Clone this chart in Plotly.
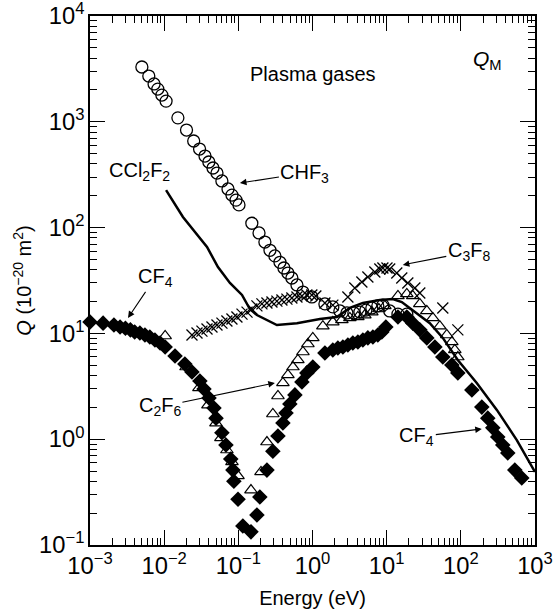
import math
import plotly.graph_objects as go

# CHF3 (open circles)
chf3_e = [0.005, 0.0062, 0.0073, 0.0082, 0.0093, 0.0106, 0.0153, 0.020, 0.025, 0.030, 0.0355,
          0.040, 0.0455, 0.0515, 0.060, 0.0725, 0.082, 0.093, 0.102, 0.152, 0.19, 0.228, 0.267,
          0.311, 0.364, 0.412, 0.466, 0.527, 0.617, 0.743, 0.98, 1.47, 1.88, 2.34, 2.91, 3.61,
          4.35, 5.25, 6.31, 7.6, 8.9, 11.0, 14.2, 18.7]
chf3_q = [3300, 2710, 2280, 2040, 1790, 1570, 1090, 836, 659, 553, 475, 417, 366, 328, 276, 232,
          203, 182, 164, 110, 89, 73, 61, 54, 47, 41.5, 37.2, 33.4, 28.7, 24.6, 22.1, 19.0, 17.8,
          16.3, 15.6, 15.6, 15.9, 16.6, 17.4, 18.2, 18.5, 16.3, 15.2, 15.2]

# CF4 (filled diamonds)
cf4_e = [0.001, 0.0015, 0.0021, 0.00254, 0.003, 0.0035, 0.004, 0.0047, 0.0055, 0.0064, 0.0075,
         0.0088, 0.0103, 0.014, 0.019, 0.0237, 0.0303, 0.0344, 0.0402, 0.0469, 0.05, 0.06, 0.068,
         0.079, 0.0845, 0.087, 0.099, 0.115, 0.148, 0.178, 0.195, 0.243, 0.292, 0.342, 0.399,
         0.439, 0.495, 0.579, 0.72, 0.84, 1.01, 1.47, 1.88, 2.2, 2.57, 3.0, 3.5, 4.09, 4.78, 5.58,
         6.52, 7.6, 8.61, 9.75, 14.2, 18.7, 22.5, 28, 34.8, 44.7, 57.2, 75.7, 91.2, 141, 192, 231,
         270, 315, 368, 430, 535, 664]
cf4_q = [12.8, 12.5, 12.0, 11.5, 11.2, 10.8, 10.3, 10.1, 9.66, 9.25, 8.66, 8.11, 7.43, 6.11, 5.14,
         4.32, 3.55, 2.98, 2.45, 1.97, 1.58, 1.15, 0.88, 0.65, 0.51, 0.40, 0.27, 0.151, 0.133,
         0.192, 0.284, 0.51, 0.77, 1.07, 1.42, 1.77, 2.15, 2.62, 3.47, 4.23, 4.81, 6.53, 6.97,
         7.28, 7.43, 7.76, 8.11, 8.30, 8.66, 9.06, 9.25, 9.66, 10.3, 11.5, 14.3, 14.3, 12.5, 10.8,
         9.06, 7.43, 5.98, 5.02, 4.23, 2.92, 2.01, 1.58, 1.28, 1.05, 0.88, 0.74, 0.51, 0.43]

# C2F6 (open triangles)
c2f6_e = [0.0103, 0.0197, 0.0294, 0.0389, 0.0499, 0.0582, 0.0701, 0.082, 0.0989, 0.148, 0.202,
          0.243, 0.292, 0.342, 0.399, 0.466, 0.545, 0.635, 0.743, 0.867, 1.01, 1.38, 1.88, 2.49,
          3.19, 4.09, 5.08, 6.31, 7.85, 9.46, 14.2, 18.7, 22.5, 28, 34.8, 41.9, 52.1, 64.7, 75.7,
          83, 91.2]
c2f6_q = [9.45, 4.81, 3.05, 2.10, 1.42, 1.03, 0.79, 0.61, 0.45, 0.33, 0.49, 0.94, 1.73, 2.56,
          3.40, 4.05, 4.81, 5.61, 6.67, 7.94, 9.06, 11.7, 12.8, 13.4, 14.0, 14.3, 14.9, 15.9,
          17.0, 18.2, 22.6, 23.6, 22.6, 19.0, 16.3, 14.0, 11.7, 9.66, 8.30, 6.97, 5.98]

# C3F8 (crosses)
c3f8_e = [0.0237, 0.0277, 0.0323, 0.0378, 0.0441, 0.0515, 0.0601, 0.0701, 0.082, 0.0957, 0.112,
          0.131, 0.152, 0.178, 0.208, 0.243, 0.284, 0.331, 0.387, 0.452, 0.527, 0.617, 0.72,
          0.84, 0.98, 1.11, 1.47, 1.88, 3.0, 3.72, 4.63, 5.58, 6.93, 8.09, 8.9, 10.1, 11.0, 13.7,
          16.0, 19.3, 24.0, 28, 57.2, 91.2]
c3f8_q = [9.66, 10.1, 10.5, 11.0, 11.5, 12.0, 12.5, 13.1, 13.7, 14.3, 15.2, 15.9, 17.0, 18.2,
          19.0, 19.4, 19.8, 20.2, 20.7, 21.1, 21.6, 22.1, 22.6, 23.1, 23.1, 22.6, 19.4, 18.5,
          22.1, 26.9, 30.6, 34.1, 38.0, 40.6, 41.5, 41.5, 40.6, 37.2, 33.4, 29.9, 26.9, 24.1,
          17.4, 10.8]

# CCl2F2 (solid line)
ccl2f2_e = [0.0106, 0.0179, 0.0378, 0.0531, 0.077, 0.112, 0.143, 0.178, 0.331, 0.617, 1.26,
            2.13, 3.19, 4.78, 8.09, 12.1, 16.0, 25.5, 38.2, 57.2, 91, 164, 306, 569, 1000]
ccl2f2_q = [226, 126, 65.6, 42.4, 30, 23.1, 17.0, 14.9, 12.0, 12.5, 13.7, 14.3, 17.4, 19.4,
            20.7, 21.1, 19.8, 15.6, 12.5, 9.06, 5.6, 3.4, 1.89, 0.98, 0.49]

FONT = "Liberation Sans, Arial, sans-serif"

fig = go.Figure()
fig.add_trace(go.Scatter(x=ccl2f2_e, y=ccl2f2_q, mode='lines',
                         line=dict(color='black', width=2.5), cliponaxis=False))
fig.add_trace(go.Scatter(x=c3f8_e, y=c3f8_q, mode='markers', cliponaxis=False,
                         marker=dict(symbol='x-thin', size=11, line=dict(color='black', width=1.3))))
fig.add_trace(go.Scatter(x=chf3_e, y=chf3_q, mode='markers', cliponaxis=False,
                         marker=dict(symbol='circle-open', size=12, color='black', line=dict(width=1.3))))
fig.add_trace(go.Scatter(x=c2f6_e, y=c2f6_q, mode='markers', cliponaxis=False,
                         marker=dict(symbol='triangle-up-open', size=11, color='black', line=dict(width=1.2))))
fig.add_trace(go.Scatter(x=cf4_e, y=cf4_q, mode='markers', cliponaxis=False,
                         marker=dict(symbol='diamond', size=12, color='black', line=dict(width=0))))

# text labels: (text, x value, y value, arrow offset x, arrow offset y)
labels = [
    ('CHF<sub>3</sub>', 0.105, 264, 65, -10),
    ('CF<sub>4</sub>', 0.00325, 14.0, 27, -40),
    ('C<sub>3</sub>F<sub>8</sub>', 16.5, 44.4, 66, -13),
    ('C<sub>2</sub>F<sub>6</sub>', 0.311, 3.4, -115, 24),
    ('CF<sub>4</sub>', 192, 1.25, -65, 8),
]
for txt, ex, qy, axp, ayp in labels:
    fig.add_annotation(x=math.log10(ex), y=math.log10(qy), text=txt, showarrow=True,
                       ax=axp, ay=ayp, arrowhead=2, arrowsize=1.2, arrowwidth=1.1,
                       arrowcolor='black', font=dict(size=20, color='black', family=FONT))

fig.add_annotation(x=math.log10(0.0047), y=math.log10(336), text='CCl<sub>2</sub>F<sub>2</sub>',
                   showarrow=False, font=dict(size=20, color='black', family=FONT))
fig.add_annotation(x=math.log10(1.01), y=math.log10(2830), text='Plasma gases',
                   showarrow=False, font=dict(size=20, color='black', family=FONT))
fig.add_annotation(x=math.log10(231), y=math.log10(3840), text='<i>Q</i><sub>M</sub>',
                   showarrow=False, font=dict(size=21, color='black', family=FONT))

alias = {'1': '10<sup>0</sup>', '10': '10<sup>1</sup>'}
axis_style = dict(
    showline=True, linecolor='black', linewidth=1.5, mirror='ticks',
    ticks='inside', ticklen=15, tickwidth=1.3, tickcolor='black',
    showgrid=False, zeroline=False, dtick=1, exponentformat='power',
    labelalias=alias, tickfont=dict(size=19, color='black', family=FONT),
    automargin=False, ticklabeloverflow='allow',
    minor=dict(ticks='inside', ticklen=7, tickwidth=1, tickcolor='black',
               dtick='D1', showgrid=False),
)

fig.update_xaxes(type='log', range=[-3.0005, 3.0005],
                 title=dict(text='Energy (eV)', standoff=13,
                            font=dict(size=20, color='black', family=FONT)),
                 **axis_style)
fig.update_yaxes(type='log', range=[-1.0005, 4.0005],
                 title=dict(text='<i>Q</i> (10<sup>−20</sup> m<sup>2</sup>)', standoff=2,
                            font=dict(size=20, color='black', family=FONT)),
                 **axis_style)

fig.update_layout(
    width=554, height=616,
    margin=dict(l=90, r=19, t=16, b=71),
    plot_bgcolor='white', paper_bgcolor='white',
    showlegend=False,
    font=dict(family=FONT, color='black'),
)

# drop the default page margin so the figure fills the window
fig.write_html("out.html", config={'displayModeBar': False},
               post_script="document.body.style.margin = '0';")
